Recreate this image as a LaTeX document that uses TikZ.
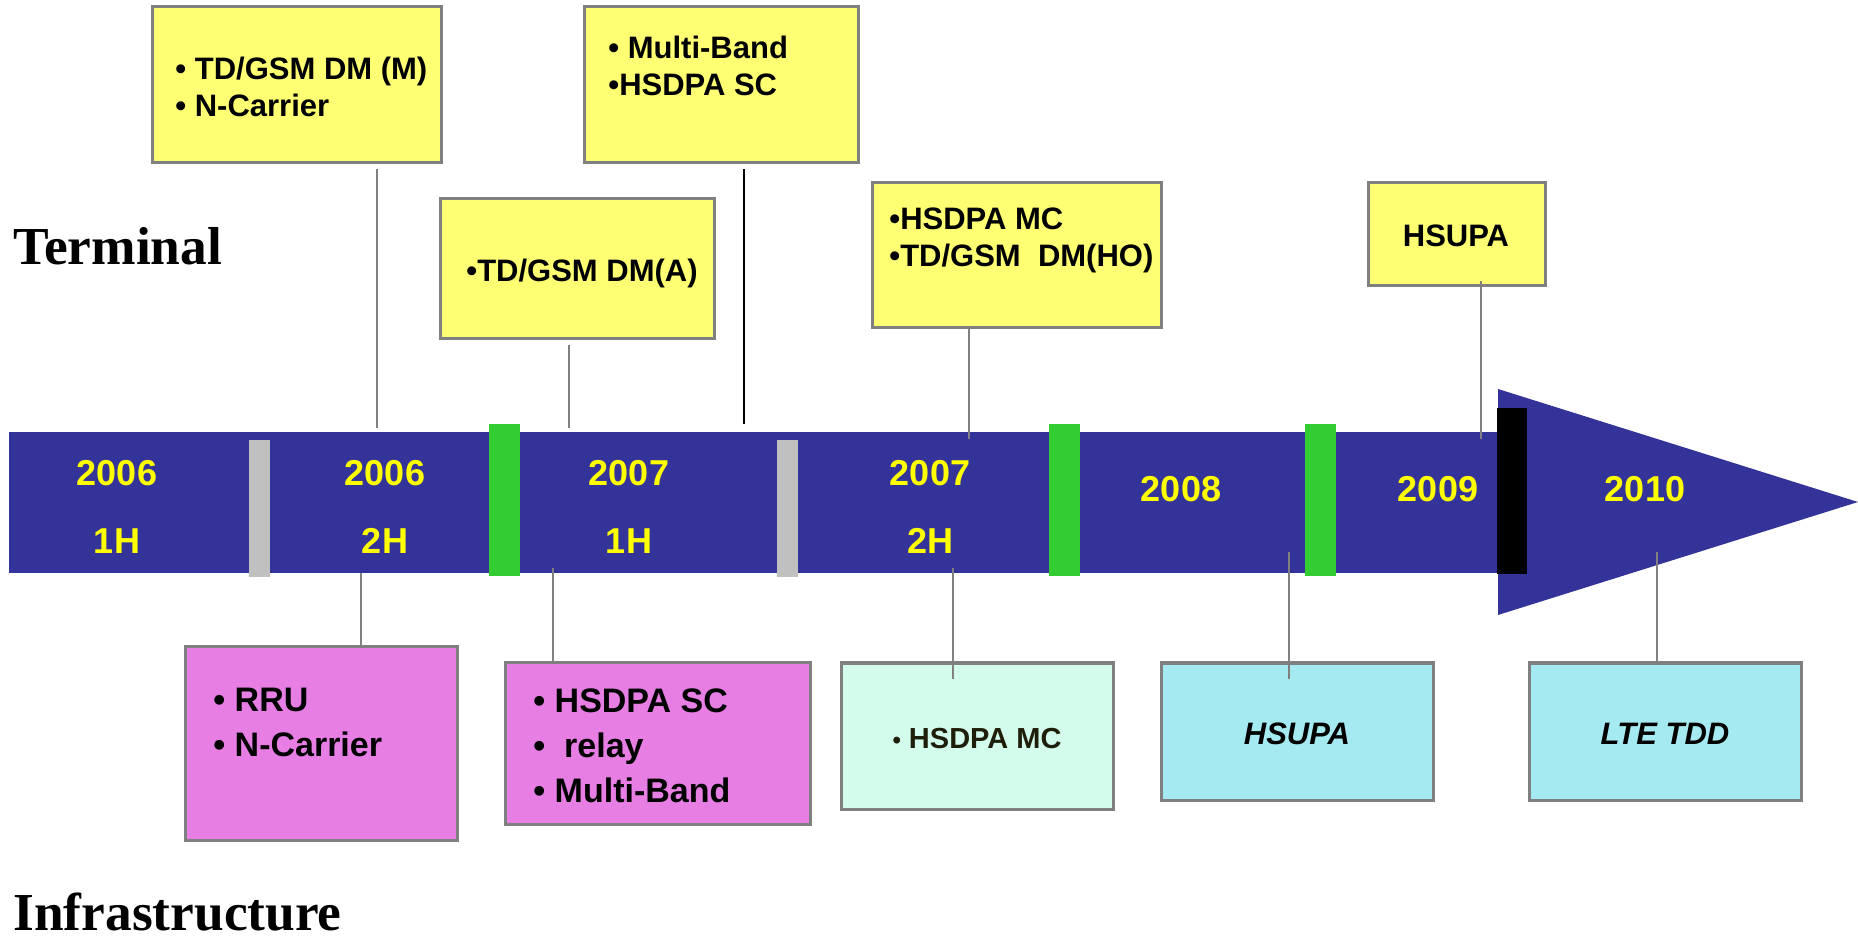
\documentclass[tikz,border=0pt]{standalone}
\usepackage{fontspec}
\setmainfont{Liberation Serif}
\setsansfont{Liberation Sans}
\usetikzlibrary{positioning}
\definecolor{BarBlue}{RGB}{51,51,153}
\definecolor{NoteYellow}{RGB}{255,255,115}
\definecolor{InfraPink}{RGB}{230,126,228}
\definecolor{InfraMint}{RGB}{212,252,236}
\definecolor{InfraCyan}{RGB}{164,234,240}
\definecolor{MarkGreen}{RGB}{51,204,51}
\definecolor{MarkGray}{RGB}{192,192,192}
\definecolor{EdgeGray}{RGB}{128,128,128}
\definecolor{YearYellow}{RGB}{255,255,0}
\definecolor{DarkOlive}{RGB}{30,30,10}
\tikzset{
  card/.style={draw=EdgeGray, line width=1.5pt, fill=#1, inner sep=0pt},
  item/.style={font=\sffamily\bfseries\fontsize{15.5}{18.5}\selectfont,
               align=left, inner sep=0pt},
  bigitem/.style={font=\sffamily\bfseries\fontsize{17}{22.5}\selectfont,
                  align=left, inner sep=0pt},
  year/.style={text=YearYellow, font=\sffamily\bfseries\fontsize{18}{34}\selectfont,
               align=center, inner sep=0pt},
  side/.style={font=\rmfamily\bfseries\fontsize{26.7}{30}\selectfont, inner sep=0pt},
  link/.style={draw=EdgeGray, line width=1pt},
  gap/.style={shorten <=2.5pt}
}

\begin{document}
\begin{tikzpicture}[x=0.5pt,y=-0.5pt]
\useasboundingbox (0,0) rectangle (1858,940);
\fill[BarBlue] (9,432) rectangle (1498,573);
\fill[BarBlue] (1498,389) -- (1858,502) -- (1498,615) -- cycle;
\foreach \x in {249,777} \fill[MarkGray] (\x,440) rectangle ++(21,137);
\foreach \x in {489,1049,1305} \fill[MarkGreen] (\x,424) rectangle ++(31,152);
\fill[black] (1497,408) rectangle (1527,574);

\node[card=NoteYellow, minimum width=144.5pt, minimum height=78pt] (tm) at (296.5,85) {};
\node[card=NoteYellow, minimum width=137pt, minimum height=78pt] (mb) at (721,85) {};
\node[card=NoteYellow, minimum width=137pt, minimum height=70pt] (da) at (577,269) {};
\node[card=NoteYellow, minimum width=144.5pt, minimum height=72.5pt] (mc) at (1016.5,255.5) {};
\node[card=NoteYellow, minimum width=88.5pt, minimum height=51.5pt] (hu) at (1456.5,234.5) {};
\node[card=InfraPink, minimum width=136pt, minimum height=96.5pt] (rru) at (321,743.5) {};
\node[card=InfraPink, minimum width=152.5pt, minimum height=80.5pt] (sc) at (657.5,743.5) {};
\node[card=InfraMint, minimum width=136pt, minimum height=73pt] (bmc) at (977,736) {};
\node[card=InfraCyan, minimum width=136pt, minimum height=68.5pt] (bhu) at (1297,731.5) {};
\node[card=InfraCyan, minimum width=136pt, minimum height=68.5pt] (lte) at (1665,731.5) {};

\coordinate (e1) at (377,428);
\coordinate (e2) at (569,428);
\coordinate (e3) at (744,424);
\coordinate (e4) at (969,439);
\coordinate (e5) at (1481,439);
\coordinate (b1) at (361,573);
\coordinate (b2) at (553,568);
\coordinate (b3) at (953,568);
\coordinate (b4) at (1289,552);
\coordinate (b5) at (1657,552);
\draw[link, gap] (tm.south -| e1) -- (e1);
\draw[link, gap] (da.south -| e2) -- (e2);
\draw[link, gap, draw=black] (mb.south -| e3) -- (e3);
\draw[link] (mc.south -| e4) -- (e4);
\draw[link] ([yshift=3pt]hu.south -| e5) -- (e5);
\draw[link] (b1) -- (rru.north -| b1);
\draw[link] (b2) -- (sc.north -| b2);
\draw[link] (b3) -- ([yshift=-8.5pt]bmc.north -| b3);
\draw[link] (b4) -- ([yshift=-8.5pt]bhu.north -| b4);
\draw[link] (b5) -- (lte.north -| b5);

\node[item, anchor=north west] (tmtext) at (175,57) {• TD/GSM DM (M)\\• N-Carrier};
\node[item, anchor=north west] (mbtext) at (608,36) {• Multi-Band\\•HSDPA SC};
\node[item, anchor=north west] (datext) at (466,259) {•TD/GSM DM(A)};
\node[item, anchor=north west] (mctext) at (889,207) {•HSDPA MC\\•TD/GSM\ \ DM(HO)};
\node[item, anchor=base] (hutext) at (1456,247) {HSUPA};
\node[bigitem, anchor=north west] (rrutext) at (213,688) {• RRU\\• N-Carrier};
\node[bigitem, anchor=north west] (sctext) at (533,688) {• HSDPA SC\\•\ \ relay\\• Multi-Band};
\node[item, anchor=base, text=DarkOlive, font=\sffamily\bfseries\fontsize{14.5}{17}\selectfont] (bmctext) at (977,748) {{\fontsize{12}{14}\selectfont•} HSDPA MC};
\node[item, anchor=base, font=\sffamily\bfseries\itshape\fontsize{15.5}{18}\selectfont] (bhutext) at (1297,744) {HSUPA};
\node[item, anchor=base, font=\sffamily\bfseries\itshape\fontsize{15.5}{18}\selectfont] (ltetext) at (1665,744) {LTE TDD};

\node[year] (y1) at (117,507) {2006\\1H};
\node[year] (y2) at (385,507) {2006\\2H};
\node[year] (y3) at (629,507) {2007\\1H};
\node[year] (y4) at (930,507) {2007\\2H};
\node[year] (y5) at (1181,489) {2008};
\node[year] (y6) at (1438,489) {2009};
\node[year] (y7) at (1645,489) {2010};

\node[side, anchor=base west] (term) at (13,265) {Terminal};
\node[side, anchor=base west] (infra) at (13,930) {Infrastructure};
\end{tikzpicture}
\end{document}
